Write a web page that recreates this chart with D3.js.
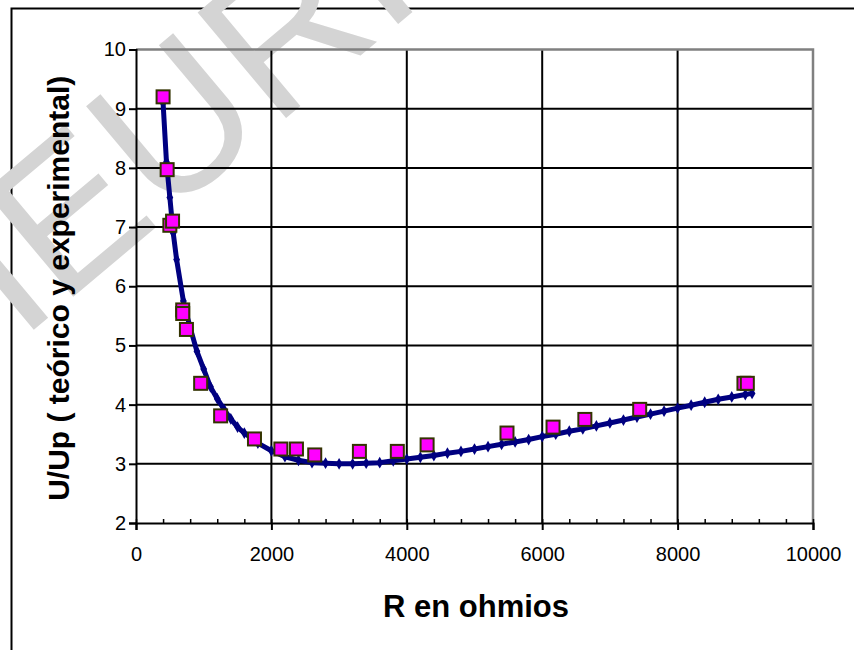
<!DOCTYPE html>
<html>
<head>
<meta charset="utf-8">
<script src="https://cdn.jsdelivr.net/npm/d3@7"></script>
<style>
  html, body { margin: 0; padding: 0; background: #fff; }
  svg { display: block; }
  .tick text { font-family: "Liberation Sans", Arial, sans-serif; }
</style>
</head>
<body>
<svg id="chart" width="854" height="650"></svg>
<script>
// theoretical curve
const rTheo = [400, 450, 500, 550, 600, 700, 800, 900, 1000, 1100, 1200, 1300, 1400, 1500, 1600,
    1800, 2000, 2200, 2400, 2600, 2800, 3000, 3200, 3400, 3600, 3800, 4000, 4200, 4400, 4600,
    4800, 5000, 5200, 5400, 5600, 5800, 6000, 6200, 6400, 6600, 6800, 7000, 7200, 7400, 7600,
    7800, 8000, 8200, 8400, 8600, 8800, 9000, 9100];
const uTheo = [9.10, 8.10, 7.50, 6.90, 6.45, 5.75, 5.30, 4.90, 4.60, 4.30, 4.10, 3.92, 3.76, 3.62, 3.52,
    3.35, 3.22, 3.12, 3.06, 3.02, 3.01, 3.00, 3.00, 3.01, 3.02, 3.05, 3.08, 3.11, 3.14, 3.18,
    3.21, 3.25, 3.29, 3.33, 3.37, 3.41, 3.46, 3.50, 3.55, 3.59, 3.64, 3.69, 3.74, 3.79, 3.84,
    3.89, 3.94, 3.99, 4.04, 4.09, 4.13, 4.17, 4.19];

// experimental points
const rExp = [400, 460, 500, 540, 690, 690, 745, 955, 1250, 1750, 2140, 2370, 2640, 3300, 3860,
    4300, 5480, 6160, 6630, 7440, 8980, 9030];
const uExp = [9.20, 7.97, 7.03, 7.10, 5.60, 5.54, 5.27, 4.36, 3.81, 3.42, 3.25, 3.25, 3.15, 3.21, 3.21,
    3.32, 3.52, 3.62, 3.75, 3.92, 4.36, 4.36];

const xTicks = [0, 2000, 4000, 6000, 8000, 10000];
const xMinor = d3.range(0, 10001, 400);
const yTicks = [2, 3, 4, 5, 6, 7, 8, 9, 10];

const xTitle = "R en ohmios";
const yTitle = "U/Up ( teórico y experimental)";
const watermark = "HEURISTICA";

const svg = d3.select("#chart");
const pLeft = 136, pRight = 813, pTop = 49.5, pBottom = 523;

const x = d3.scaleLinear().domain([0, 10000]).range([pLeft, pRight]);
const y = d3.scaleLinear().domain([2, 10]).range([pBottom, pTop]);

// outer chart border
svg.append("rect")
    .attr("x", 11.5).attr("y", 8.5)
    .attr("width", 900).attr("height", 700)
    .attr("fill", "none").attr("stroke", "#000").attr("stroke-width", 2);

// watermark
svg.append("text")
    .attr("transform", "translate(-50,400) rotate(-40)")
    .attr("font-family", "Liberation Sans, Arial, sans-serif")
    .attr("font-size", 200)
    .attr("fill", "#d4d4d4")
    .text(watermark);

// grid
svg.append("g")
    .selectAll("line")
    .data(yTicks.filter(d => d > 2 && d < 10))
    .join("line")
    .attr("x1", pLeft).attr("x2", pRight)
    .attr("y1", d => y(d)).attr("y2", d => y(d))
    .attr("stroke", "#000").attr("stroke-width", 2);

svg.append("g")
    .selectAll("line")
    .data(xTicks.filter(d => d > 0 && d < 10000))
    .join("line")
    .attr("x1", d => x(d)).attr("x2", d => x(d))
    .attr("y1", pTop).attr("y2", pBottom)
    .attr("stroke", "#000").attr("stroke-width", 2);

// plot area border (top/right)
svg.append("path")
    .attr("d", `M${pLeft},${pTop}H${pRight}V${pBottom}`)
    .attr("fill", "none").attr("stroke", "#808080").attr("stroke-width", 2.5);

// axes
const gx = svg.append("g")
    .attr("transform", `translate(0,${pBottom})`)
    .call(d3.axisBottom(x).tickValues(xTicks).tickSize(7).tickPadding(17).tickFormat(d3.format("d")));
gx.selectAll("text").attr("font-size", 20).attr("fill", "#000");

const gxm = svg.append("g")
    .attr("transform", `translate(0,${pBottom})`)
    .call(d3.axisBottom(x).tickValues(xMinor).tickSizeInner(-4).tickSizeOuter(0).tickFormat(""));
gxm.select(".domain").remove();

const gy = svg.append("g")
    .attr("transform", `translate(${pLeft},0)`)
    .call(d3.axisLeft(y).tickValues(yTicks).tickSize(7).tickPadding(3));
gy.selectAll("text").attr("font-size", 20).attr("fill", "#000");

svg.selectAll(".domain, .tick line").attr("stroke", "#000").attr("stroke-width", 2);
gxm.selectAll(".tick line").attr("stroke-width", 1.5);

// titles
svg.append("text")
    .attr("x", 476).attr("y", 617)
    .attr("text-anchor", "middle")
    .attr("font-family", "Liberation Sans, Arial, sans-serif")
    .attr("font-weight", "bold").attr("font-size", 31)
    .text(xTitle);

svg.append("text")
    .attr("transform", `translate(69,${(pTop + pBottom) / 2 + 2}) rotate(-90)`)
    .attr("text-anchor", "middle")
    .attr("font-family", "Liberation Sans, Arial, sans-serif")
    .attr("font-weight", "bold").attr("font-size", 30)
    .text(yTitle);

// theoretical line
const theo = rTheo.map((r, i) => [r, uTheo[i]]);
svg.append("path")
    .datum(theo)
    .attr("fill", "none")
    .attr("stroke", "#000080")
    .attr("stroke-width", 5)
    .attr("stroke-linejoin", "round")
    .attr("d", d3.line().x(d => x(d[0])).y(d => y(d[1])));

svg.append("g")
    .selectAll("path")
    .data(theo)
    .join("path")
    .attr("transform", d => `translate(${x(d[0])},${y(d[1])})`)
    .attr("d", d3.symbol().type(d3.symbolDiamond).size(40))
    .attr("fill", "#000080");

// experimental markers
const exp = rExp.map((r, i) => [r, uExp[i]]);
svg.append("g")
    .selectAll("rect")
    .data(exp)
    .join("rect")
    .attr("x", d => x(d[0]) - 6.5)
    .attr("y", d => y(d[1]) - 6.5)
    .attr("width", 13).attr("height", 13)
    .attr("fill", "#ff00ff")
    .attr("stroke", "#333300")
    .attr("stroke-width", 2);
</script>
</body>
</html>
